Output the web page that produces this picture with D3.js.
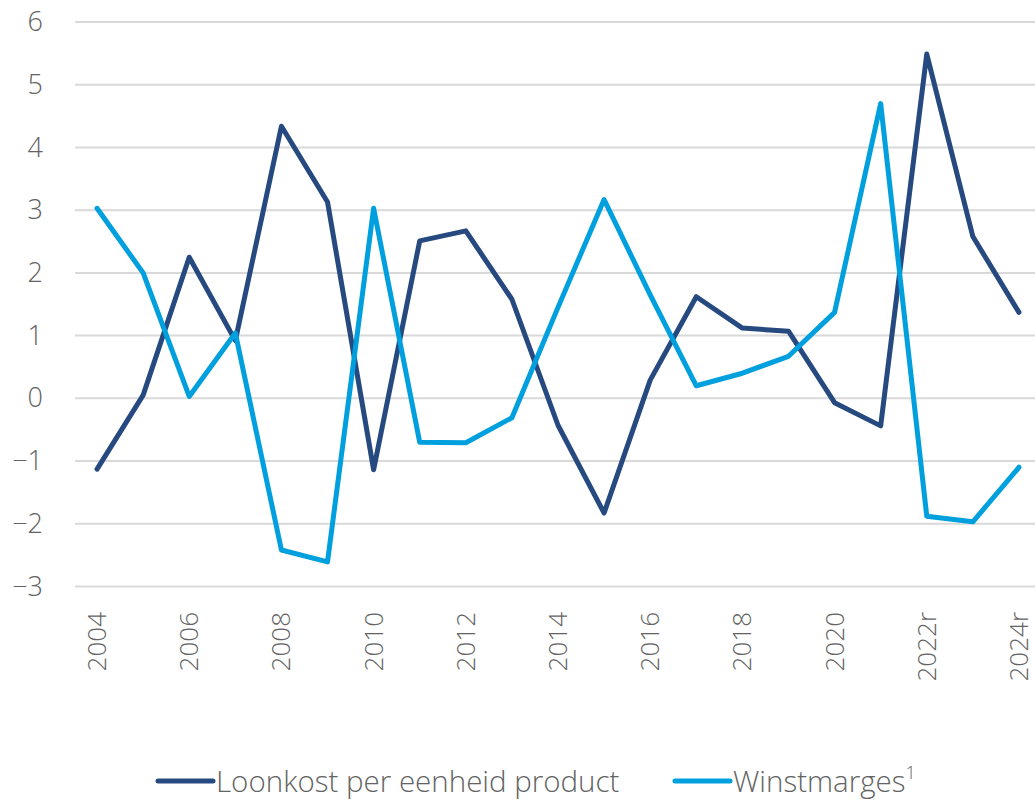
<!DOCTYPE html>
<html>
<head>
<meta charset="utf-8">
<script src="https://cdn.jsdelivr.net/npm/d3@7"></script>
<style>
  body { margin: 0; background: #fff; }
  svg text { font-family: "Open Sans", "Segoe UI", sans-serif; font-weight: 300; fill: #636363; }
</style>
</head>
<body>
<div id="chart"></div>
<script>
// --- DATA ---
var years = ["2004", "2005", "2006", "2007", "2008", "2009", "2010", "2011", "2012", "2013",
             "2014", "2015", "2016", "2017", "2018", "2019", "2020", "2021", "2022r", "2023", "2024r"];
var tickYears = ["2004", "2006", "2008", "2010", "2012", "2014", "2016", "2018", "2020", "2022r", "2024r"];
var loonkost = [-1.13, 0.05, 2.25, 0.92, 4.34, 3.13, -1.14, 2.51, 2.67, 1.58,
                -0.43, -1.83, 0.29, 1.62, 1.12, 1.07, -0.07, -0.44, 5.49, 2.58, 1.37];
var winstmarges = [3.03, 2.0, 0.03, 1.04, -2.42, -2.61, 3.03, -0.70, -0.71, -0.31,
                   1.45, 3.17, 1.65, 0.2, 0.40, 0.67, 1.37, 4.70, -1.88, -1.97, -1.10];
var yTicks = [-3, -2, -1, 0, 1, 2, 3, 4, 5, 6];
var seriesNames = ["Loonkost per eenheid product", "Winstmarges"];
var seriesColors = ["#264a80", "#00a0de"];

// --- SETUP ---
var width = 1035, height = 801;
var svg = d3.select("#chart").append("svg")
  .attr("width", width)
  .attr("height", height);

var x = d3.scaleBand().domain(years).range([74, 1042]);
var y = d3.scaleLinear().domain([-3, 6]).range([586.4, 22.1]);

// gridlines
svg.append("g").selectAll("line")
  .data(yTicks)
  .enter().append("line")
  .attr("x1", 75).attr("x2", width)
  .attr("y1", d => y(d)).attr("y2", d => y(d))
  .attr("stroke", "#d9d9d9")
  .attr("stroke-width", 2);

// y axis labels
var yAxis = svg.append("g")
  .attr("transform", "translate(43,0)")
  .call(d3.axisLeft(y).tickValues(yTicks).tickSize(0).tickPadding(0));
yAxis.select(".domain").remove();
yAxis.selectAll("text")
  .attr("font-size", 27)
  .attr("font-family", null);

// x axis labels (rotated)
svg.append("g").selectAll("text")
  .data(tickYears)
  .enter().append("text")
  .attr("transform", d => "translate(" + (x(d) + x.bandwidth() / 2 + 9) + ",612) rotate(-90)")
  .attr("text-anchor", "end")
  .attr("font-size", 26)
  .text(d => d);

// lines
var line = d3.line()
  .x((d, i) => x(years[i]) + x.bandwidth() / 2)
  .y(d => y(d));

[loonkost, winstmarges].forEach(function(vals, k) {
  svg.append("path")
    .datum(vals)
    .attr("d", line)
    .attr("fill", "none")
    .attr("stroke", seriesColors[k])
    .attr("stroke-width", 5)
    .attr("stroke-linecap", "round")
    .attr("stroke-linejoin", "round");
});

// legend
var legendX = [158, 675];
seriesNames.forEach(function(name, k) {
  var g = svg.append("g").attr("transform", "translate(" + legendX[k] + ",781)");
  g.append("line")
    .attr("x1", 0).attr("x2", 55)
    .attr("y1", 0).attr("y2", 0)
    .attr("stroke", seriesColors[k])
    .attr("stroke-width", 5)
    .attr("stroke-linecap", "round");
  var t = g.append("text")
    .attr("x", 58).attr("y", 11)
    .attr("font-size", 29.5)
    .text(name);
  if (k === 1) {
    t.append("tspan").attr("dy", -13).attr("font-size", 18).text("1");
  }
});
</script>
</body>
</html>
